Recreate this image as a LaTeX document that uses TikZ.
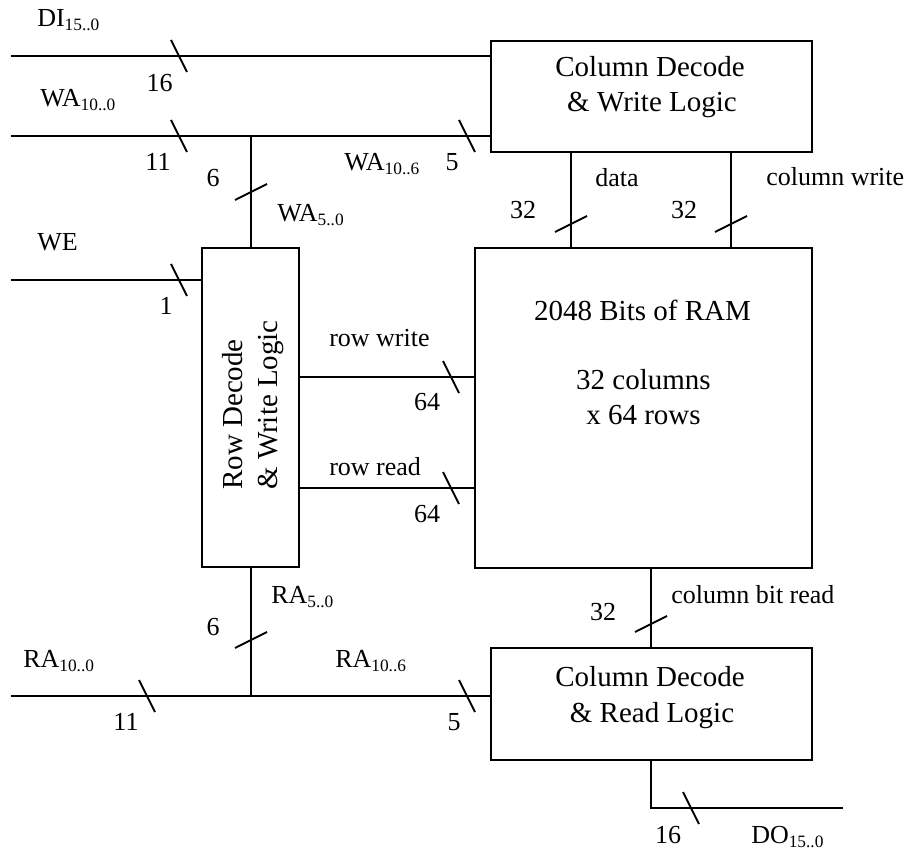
\documentclass[tikz,border=0pt]{standalone}
\usepackage{fontspec}
\setmainfont{Liberation Serif}
\newcommand\sbs[1]{\raisebox{-3pt}{\fontsize{13}{13}\selectfont #1}}
\newcommand\htick[2]{\draw[tick] ({#1-8},{#2-16}) -- ({#1+8},{#2+16});}
\newcommand\vtick[2]{\draw[tick] ({#1-16},{#2+8}) -- ({#1+16},{#2-8});}
\tikzset{
  box/.style={draw, line width=1.5pt, inner sep=0pt, fill=none},
  wire/.style={line width=1.5pt},
  tick/.style={line width=1.5pt},
  lbl/.style={inner sep=0pt, anchor=base west, font=\fontsize{19.5}{23}\selectfont},
  num/.style={inner sep=0pt, anchor=base, font=\fontsize{19.5}{23}\selectfont},
  btxt/.style={inner sep=0pt, anchor=base, font=\fontsize{21.75}{26}\selectfont},
}
\begin{document}
\begin{tikzpicture}[x=0.75pt, y=-0.75pt]
\useasboundingbox[fill=white] (0,0) rectangle (911,852);

% boxes
\node[box, minimum width=240.75pt, minimum height=83.25pt] (cw) at (651.5,96.5) {};
\node[box, minimum width=252.75pt, minimum height=240pt] (ram) at (643.5,408) {};
\node[box, minimum width=72.75pt, minimum height=239.25pt] (row) at (250.5,407.5) {};
\node[box, minimum width=240.75pt, minimum height=84pt] (rd) at (651.5,704) {};

% box texts
\node[btxt] (cw1) at (650,77) {Column Decode};
\node[btxt] (cw2) at (652,112) {\& Write Logic};
\node[btxt] (rd1) at (650,686) {Column Decode};
\node[btxt] (rd2) at (652,722) {\& Read Logic};
\node[btxt] (ram1) at (642.5,321) {2048 Bits of RAM};
\node[btxt] (ram2) at (643.5,390) {32 columns};
\node[btxt] (ram3) at (643.5,425) {x 64 rows};
\node[btxt, anchor=base west, rotate=90] (row1) at (242,490) {Row Decode};
\node[btxt, anchor=base west, rotate=90] (row2) at (277,490) {\& Write Logic};

% coordinates
\coordinate (diin) at (11,56);
\coordinate (wain) at (11,136);
\coordinate (waj) at (250.5,136);
\coordinate (wein) at (11,280);
\coordinate (rwy) at (0,377);
\coordinate (rry) at (0,488);
\coordinate (datax) at (571,0);
\coordinate (cwx) at (731,0);
\coordinate (cbx) at (651,0);
\coordinate (raj) at (250.5,696);
\coordinate (rain) at (11,696);
\coordinate (doend) at (843,808);

% wires
\draw[wire] (diin) -- (diin -| cw.west);
\draw[wire] (wain) -- (wain -| cw.west);
\draw[wire] (waj) -- (row.north);
\draw[wire] (wein) -- (wein -| row.west);
\draw[wire] (rwy -| row.east) -- (rwy -| ram.west);
\draw[wire] (rry -| row.east) -- (rry -| ram.west);
\draw[wire] (datax |- cw.south) -- (datax |- ram.north);
\draw[wire] (cwx |- cw.south) -- (cwx |- ram.north);
\draw[wire] (cbx |- ram.south) -- (cbx |- rd.north);
\draw[wire] (row.south) -- (raj);
\draw[wire] (rain) -- (rain -| rd.west);
\draw[wire] (cbx |- rd.south) -- (cbx |- doend) -- (doend);

% ticks
\htick{179}{56}
\htick{179}{136}
\htick{467}{136}
\vtick{251}{192}
\htick{179}{280}
\htick{451}{377}
\htick{451}{488}
\vtick{571}{224}
\vtick{731}{224}
\vtick{251}{640}
\htick{147}{696}
\htick{467}{696}
\vtick{651}{624}
\htick{691}{808}

% labels
\node[lbl] (ldi) at (37,27) {DI\sbs{15..0}};
\node[num] (n16a) at (159.5,92) {16};
\node[lbl] (lwa) at (40,107) {WA\sbs{10..0}};
\node[num] (n11a) at (158,171) {11};
\node[num] (n6a) at (213,187) {6};
\node[lbl] (lwa106) at (344,171) {WA\sbs{10..6}};
\node[num] (n5a) at (452,171) {5};
\node[lbl] (lwa50) at (277,222) {WA\sbs{5..0}};
\node[lbl] (ldata) at (595,187) {data};
\node[num] (n32a) at (523,219) {32};
\node[lbl] (lcw) at (766,186) {column write};
\node[num] (n32b) at (684,219) {32};
\node[lbl] (lwe) at (37,251) {WE};
\node[num] (n1) at (166,315) {1};
\node[lbl] (lrw) at (329,347) {row write};
\node[num] (n64a) at (427,411) {64};
\node[lbl] (lrr) at (329,475) {row read};
\node[num] (n64b) at (427,522) {64};
\node[lbl] (lra50) at (271,603) {RA\sbs{5..0}};
\node[num] (n6b) at (213,635) {6};
\node[lbl] (lra) at (23,667) {RA\sbs{10..0}};
\node[num] (n11b) at (126,730) {11};
\node[lbl] (lra106) at (335,667) {RA\sbs{10..6}};
\node[num] (n5b) at (454,730) {5};
\node[num] (n32c) at (603,620) {32};
\node[lbl] (lcbr) at (671,603) {column bit read};
\node[num] (n16b) at (668,843) {16};
\node[lbl] (ldo) at (751,843) {DO\sbs{15..0}};
\end{tikzpicture}
\end{document}
